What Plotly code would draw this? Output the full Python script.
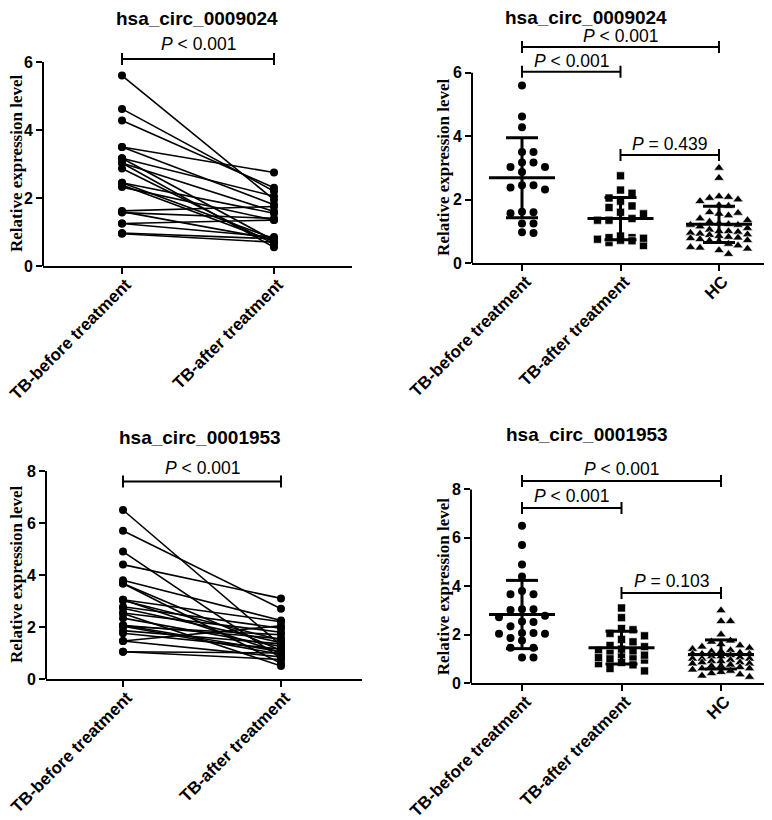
"""Paired and group comparison plots for hsa_circ_0009024 and hsa_circ_0001953."""

import math

import plotly.graph_objects as go

# the page body has an 8px margin, so the figure is drawn 8px in from the corner
OFF = 8
W, H = 764, 812
SANS = "Liberation Sans"
SERIF = "Liberation Serif"

GROUPS = ["TB-before treatment", "TB-after treatment", "HC"]

# hsa_circ_0009024: same patients before / after treatment, plus healthy controls
c9024_before = [5.6, 4.62, 4.28, 3.5, 3.5, 3.17, 3.17, 3.03, 3.03, 2.87, 2.45,
                2.45, 2.38, 2.32, 1.62, 1.6, 1.57, 1.25, 1.25, 0.97, 0.95]
c9024_after = [1.95, 2.2, 2.3, 2.75, 1.8, 2.05, 0.75, 1.6, 0.55, 0.65, 1.55,
               0.8, 0.72, 1.35, 1.75, 0.78, 1.4, 1.35, 0.85, 0.8, 0.7]
c9024_hc = [3.0, 2.68, 2.1, 2.08, 2.05, 2.0, 1.95, 1.82, 1.8, 1.6, 1.58, 1.55,
            1.5, 1.4, 1.35, 1.3, 1.25, 1.22, 1.2, 1.2, 1.15, 1.1, 1.05, 1.0,
            1.0, 0.98, 0.95, 0.92, 0.9, 0.88, 0.85, 0.82, 0.8, 0.78, 0.75,
            0.72, 0.7, 0.68, 0.6, 0.55, 0.5, 0.48, 0.45, 0.4, 0.28]
c9024_mean = [2.69, 1.40, 1.22]
c9024_sd = [1.26, 0.67, 0.57]

# hsa_circ_0001953
c1953_before = [6.5, 5.7, 4.9, 4.4, 3.8, 3.67, 3.67, 3.05, 3.02, 3.05, 2.78,
                2.72, 2.54, 2.52, 2.34, 2.03, 1.86, 2.07, 2.07, 2.03, 1.76,
                1.46, 1.46, 1.05, 1.05]
c1953_after = [1.3, 2.7, 0.8, 3.1, 2.25, 0.6, 1.1, 2.2, 1.5, 1.0, 1.95, 1.4,
               1.8, 0.5, 1.25, 1.7, 1.35, 1.55, 1.05, 0.95, 1.15, 0.85, 2.05,
               1.0, 0.75]
c1953_hc = [3.0, 2.55, 2.55, 2.0, 1.75, 1.7, 1.6, 1.55, 1.5, 1.45, 1.4, 1.35,
            1.3, 1.3, 1.25, 1.2, 1.2, 1.2, 1.15, 1.1, 1.1, 1.05, 1.0, 1.0, 1.0,
            0.95, 0.9, 0.9, 0.85, 0.85, 0.8, 0.8, 0.75, 0.7, 0.7, 0.65, 0.6,
            0.6, 0.55, 0.5, 0.45, 0.4, 0.35, 0.3, 0.25]
c1953_mean = [2.83, 1.46, 1.18]
c1953_sd = [1.41, 0.68, 0.60]

# significance brackets: (group a, group b, height, p text)
c9024_pair_test = [(0, 1, 6.09, "< 0.001")]
c9024_group_tests = [(0, 2, 6.81, "< 0.001"), (0, 1, 6.03, "< 0.001"),
                     (1, 2, 3.41, "= 0.439")]
c1953_pair_test = [(0, 1, 7.6, "< 0.001")]
c1953_group_tests = [(0, 2, 8.35, "< 0.001"), (0, 1, 7.23, "< 0.001"),
                     (1, 2, 3.72, "= 0.103")]

YTICKS_9024 = [0, 2, 4, 6]
YTICKS_1953 = [0, 2, 4, 6, 8]

# panel geometry in page pixels: axis ends, first category, category step,
# y=0 position, pixels per unit, top of the y range
PANELS = [
    dict(left=43, right=352, c0=122, step=152, zero=266, ppu=34.0, ymax=6.6,
         title_x=197, title_y=18, ytitle_x=16),
    dict(left=472, right=766, c0=522, step=98.5, zero=263, ppu=31.7, ymax=7.3,
         title_x=586, title_y=17, ytitle_x=444),
    dict(left=46, right=362, c0=123, step=158, zero=679, ppu=26.0, ymax=8.2,
         title_x=200, title_y=438, ytitle_x=16),
    dict(left=471, right=770, c0=522, step=99.5, zero=683, ppu=24.2, ymax=9.0,
         title_x=587, title_y=434, ytitle_x=443),
]


def px(p):
    return (p - OFF) / W


def py(p):
    return 1 - (p - OFF) / H


def swarm(values, p, step_px, kmax, diam=8.5):
    """Spread points sideways so they don't pile up (GraphPad style)."""
    placed = []
    xs = [0.0] * len(values)
    order = sorted(range(len(values)), key=lambda i: -values[i])
    tries = [0]
    for k in range(1, kmax + 1):
        tries += [k, -k]
    for i in order:
        y = values[i] * p["ppu"]
        best, best_gap = 0, -1.0
        for k in tries:
            x = k * step_px
            gap = min((math.hypot(x - a, y - b) for a, b in placed), default=1e9)
            if gap >= diam:
                best = k
                break
            if gap > best_gap:
                best, best_gap = k, gap
        placed.append((best * step_px, y))
        xs[i] = best * step_px / p["step"]
    return xs


fig = go.Figure()
shapes, annotations = [], []


def setup_axes(n, p, ncat, yticks, title):
    sx = "" if n == 1 else str(n)
    fig.update_layout(**{
        f"xaxis{sx}": dict(
            domain=[px(p["left"]), px(p["right"])],
            range=[(p["left"] - p["c0"]) / p["step"], (p["right"] - p["c0"]) / p["step"]],
            anchor=f"y{sx}", showline=True, linewidth=2, linecolor="black",
            ticks="outside", ticklen=6, tickwidth=2, tickcolor="black",
            tickvals=list(range(ncat)), ticktext=GROUPS[:ncat], tickangle=-45,
            ticklabelstandoff=-6, ticklabelshift=4, ticklabeloverflow="allow",
            tickfont=dict(family=SANS, size=17, color="black", weight="bold"),
            showgrid=False, zeroline=False, automargin=False,
        ),
        f"yaxis{sx}": dict(
            domain=[py(p["zero"]), py(p["zero"] - p["ppu"] * p["ymax"])],
            range=[0, p["ymax"]], anchor=f"x{sx}", showline=False,
            ticks="outside", ticklen=6, tickwidth=2, tickcolor="black",
            tickvals=yticks, ticktext=[str(t) for t in yticks],
            tickfont=dict(family=SANS, size=16, color="black", weight="bold"),
            showgrid=False, zeroline=False, automargin=False,
        ),
    })
    # y axis line only up to the last tick, like the original
    shapes.append(dict(type="line", xref=f"x{sx} domain", yref=f"y{sx}",
                       x0=0, x1=0, y0=0, y1=yticks[-1],
                       line=dict(color="black", width=2)))
    annotations.append(dict(text=title, xref="paper", yref="paper",
                            x=px(p["title_x"]), y=py(p["title_y"]),
                            showarrow=False, xanchor="center", yanchor="middle",
                            font=dict(family=SANS, size=19, color="black", weight="bold")))
    mid = p["zero"] - p["ppu"] * yticks[-1] / 2
    annotations.append(dict(text="Relative expression level", textangle=-90,
                            xref="paper", yref="paper",
                            x=px(p["ytitle_x"]), y=py(mid),
                            showarrow=False, xanchor="center", yanchor="middle",
                            font=dict(family=SERIF, size=17, color="black", weight="bold")))


def add_brackets(n, p, tests, shift):
    sx = "" if n == 1 else str(n)
    cap = 6 / p["ppu"]
    for a, b, h, txt in tests:
        line = dict(color="black", width=2)
        shapes.append(dict(type="line", xref=f"x{sx}", yref=f"y{sx}",
                           x0=a, x1=b, y0=h, y1=h, line=line))
        for xe in (a, b):
            shapes.append(dict(type="line", xref=f"x{sx}", yref=f"y{sx}",
                               x0=xe, x1=xe, y0=h - cap, y1=h + cap, line=line))
        annotations.append(dict(text="<i>P</i> " + txt, xref=f"x{sx}", yref=f"y{sx}",
                                x=(a + b) / 2, y=h, yshift=shift, showarrow=False,
                                xanchor="center", yanchor="middle",
                                font=dict(family=SANS, size=17.5, color="black")))


def add_paired(n, before, after):
    sx = "" if n == 1 else str(n)
    xs, ys = [], []
    for b, a in zip(before, after):
        xs += [0, 1, None]
        ys += [b, a, None]
    fig.add_trace(go.Scatter(
        x=xs, y=ys, xaxis=f"x{sx}", yaxis=f"y{sx}", mode="lines+markers",
        line=dict(color="black", width=1.6),
        marker=dict(symbol="circle", size=8, color="black"),
        showlegend=False, hoverinfo="y",
    ))


def add_groups(n, p, groups, means, sds):
    sx = "" if n == 1 else str(n)
    symbols = ["circle", "square", "triangle-up"]
    sizes = [8, 8, 9]
    steps = [11.5, 11.5, 9.5]
    kmaxes = [2, 2, 3]
    for g, vals in enumerate(groups):
        offs = swarm(vals, p, steps[g], kmaxes[g])
        fig.add_trace(go.Scatter(
            x=[g + o for o in offs], y=vals, xaxis=f"x{sx}", yaxis=f"y{sx}",
            mode="markers",
            marker=dict(symbol=symbols[g], size=sizes[g], color="black",
                        line=dict(color="white", width=0.6 if g else 0)),
            showlegend=False, hoverinfo="y",
        ))
    mh = 33 / p["step"]
    ch = 16 / p["step"]
    xs, ys = [], []
    for g, (m, s) in enumerate(zip(means, sds)):
        xs += [g - mh, g + mh, None, g, g, None,
               g - ch, g + ch, None, g - ch, g + ch, None]
        ys += [m, m, None, m - s, m + s, None,
               m + s, m + s, None, m - s, m - s, None]
    fig.add_trace(go.Scatter(
        x=xs, y=ys, xaxis=f"x{sx}", yaxis=f"y{sx}", mode="lines",
        line=dict(color="black", width=3), showlegend=False, hoverinfo="skip",
    ))


# top row: hsa_circ_0009024
setup_axes(1, PANELS[0], 2, YTICKS_9024, "hsa_circ_0009024")
add_paired(1, c9024_before, c9024_after)
add_brackets(1, PANELS[0], c9024_pair_test, 15)

setup_axes(2, PANELS[1], 3, YTICKS_9024, "hsa_circ_0009024")
add_groups(2, PANELS[1], [c9024_before, c9024_after, c9024_hc], c9024_mean, c9024_sd)
add_brackets(2, PANELS[1], c9024_group_tests, 11)

# bottom row: hsa_circ_0001953
setup_axes(3, PANELS[2], 2, YTICKS_1953, "hsa_circ_0001953")
add_paired(3, c1953_before, c1953_after)
add_brackets(3, PANELS[2], c1953_pair_test, 13)

setup_axes(4, PANELS[3], 3, YTICKS_1953, "hsa_circ_0001953")
add_groups(4, PANELS[3], [c1953_before, c1953_after, c1953_hc], c1953_mean, c1953_sd)
add_brackets(4, PANELS[3], c1953_group_tests, 12)

fig.update_layout(
    width=W, height=H,
    margin=dict(l=0, r=0, t=0, b=0, autoexpand=False),
    paper_bgcolor="white", plot_bgcolor="white",
    shapes=shapes, annotations=annotations,
    showlegend=False,
)

fig.write_html("out.html")
